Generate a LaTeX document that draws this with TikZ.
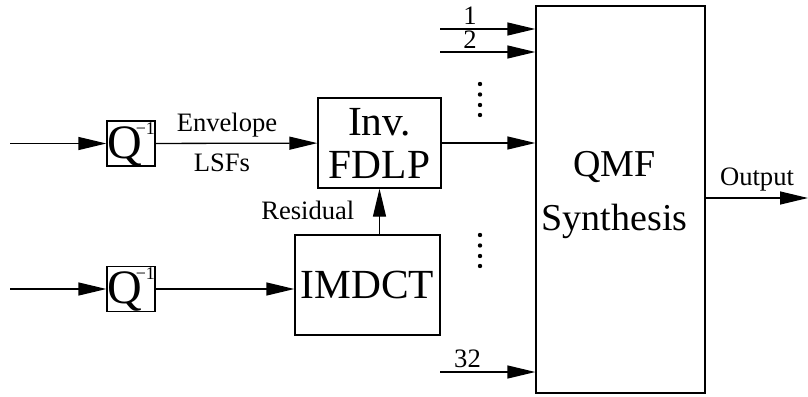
\documentclass[tikz,border=0pt]{standalone}
\usepackage{fontspec}
\setmainfont{Liberation Serif}
\usetikzlibrary{arrows.meta, positioning, calc}

\begin{document}
\begin{tikzpicture}[
   x=0.5pt, y=-0.5pt,
   line width=0.65pt,
   lbl/.style={font=\fontsize{13.3}{16}\selectfont, inner sep=0pt, anchor=base},
   qbox/.style={rectangle, draw, inner sep=0pt, minimum width=24pt,
               text height=18.5pt, text depth=4pt, font=\fontsize{24}{24}\selectfont},
   blk/.style={rectangle, draw, align=center, inner sep=0pt},
   arr/.style={-{Triangle[length=14pt, width=6.5pt]}}]
 \useasboundingbox (0,0) rectangle (808,396);
 % decoder blocks
 \node[qbox] (q1) at (131,143.5) {Q\kern-3pt\raisebox{12pt}{\fontsize{9}{9}\selectfont −1}};
 \node[qbox] (q2) at (131,289) {Q\kern-3pt\raisebox{12pt}{\fontsize{9}{9}\selectfont −1}};
 \node[blk, minimum width=61.5pt, minimum height=45pt,
       font=\fontsize{20.7}{21.5}\selectfont] (fdlp) at (379.5,143) {Inv.\\FDLP};
 \node[blk, minimum width=72.5pt, minimum height=50pt,
       font=\fontsize{20.7}{21.5}\selectfont] (imdct) at (367.5,285) {IMDCT};
 \node[blk, minimum width=84.5pt, minimum height=193.5pt,
       font=\fontsize{19}{27}\selectfont] (qmf) at (620.5,199.5)
       {QMF\hspace*{6pt}\\Synthesis\hspace*{6pt}\rule[-9pt]{0pt}{0pt}};
 % free ends
 \coordinate (in1) at (10,143.5);
 \coordinate (in2) at (10,289);
 \coordinate (b1)  at (440,29);
 \coordinate (b2)  at (440,52);
 \coordinate (b32) at (440,372);
 \coordinate (out) at (808,198);
 % connectors
 \draw[arr] (in1) -- (q1);
 \draw[arr] (q1) -- (fdlp);
 \draw[arr] (in2) -- (q2);
 \draw[arr] (q2.east) -- (q2.east -| imdct.west);
 \draw[arr] (fdlp.south |- imdct.north) -- (fdlp.south);
 \draw[arr] (fdlp.east) -- (fdlp.east -| qmf.west);
 \draw[arr] (b1)  -- (b1 -| qmf.west);
 \draw[arr] (b2)  -- (b2 -| qmf.west);
 \draw[arr] (b32) -- (b32 -| qmf.west);
 \draw[arr] (qmf.east |- out) -- (out);
 % labels
 \node[lbl] (env) at (227,131) {Envelope};
 \node[lbl] (lsf) at (222,171) {LSFs};
 \node[lbl, anchor=base east] (res) at (355,219) {Residual};
 \node[lbl] (n1)  at (470,25)  {1};
 \node[lbl] (n2)  at (470,48)  {2};
 \node[lbl] (n32) at (467.5,367) {32};
 \node[lbl] (outl) at (757,185) {Output};
 % dots
 \foreach \y in {84,94.5,105,115,235,245.5,256,266}
   \fill (480,\y) circle (1.1pt);
\end{tikzpicture}
\end{document}
